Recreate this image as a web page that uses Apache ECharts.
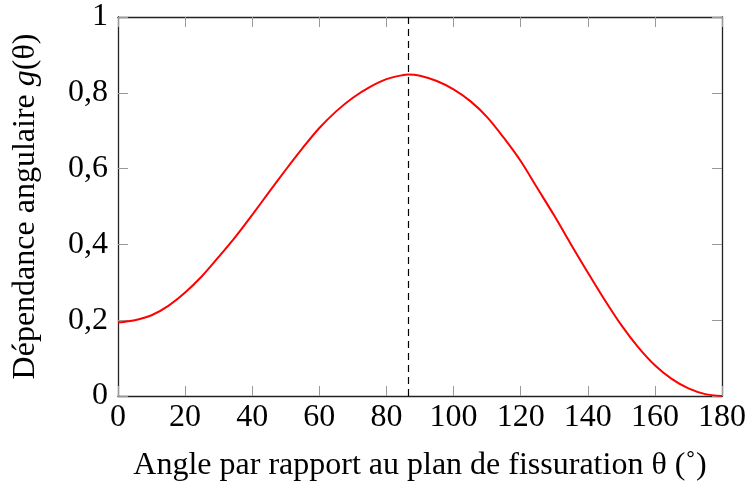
<!DOCTYPE html>
<html>
<head>
<meta charset="utf-8">
<script src="https://cdn.jsdelivr.net/npm/echarts@6/dist/echarts.min.js"></script>
<style>
  html, body { margin: 0; padding: 0; background: #fff; }
  #chart { width: 748px; height: 483px; }
</style>
</head>
<body>
<div id="chart"></div>
<script>
// angle (deg) and g(theta) values
const angles = [0, 5, 10, 15, 20, 25, 30, 35, 40, 45, 50, 55, 60, 65, 70, 75, 80, 85, 86.4,
  90, 95, 100, 105, 110, 115, 120, 125, 130, 135, 140, 145, 150, 155, 160, 165, 170, 175, 180];
const gValues = [0.194, 0.200, 0.213, 0.238, 0.273, 0.316, 0.367, 0.420, 0.478, 0.538, 0.597, 0.654, 0.707, 0.751, 0.787, 0.815, 0.836, 0.847, 0.848,
  0.845, 0.831, 0.809, 0.778, 0.736, 0.681, 0.620, 0.548, 0.476, 0.400, 0.326, 0.254, 0.187, 0.129, 0.081, 0.045, 0.020, 0.005, 0.0];
const peakAngle = 86.4;

const font = 'Liberation Serif';
const chart = echarts.init(document.getElementById('chart'));

const tickStyle = { show: true, inside: true, length: 10, lineStyle: { color: '#999', width: 1 } };
const frameLine = { show: true, onZero: false, lineStyle: { color: '#222', width: 1.3 } };

const option = {
  animation: false,
  grid: { left: 118, right: 26, top: 17, bottom: 87, outerBoundsMode: 'none' },
  xAxis: [
    {
      type: 'value', min: 0, max: 180, interval: 20,
      axisLine: frameLine, axisTick: tickStyle, splitLine: { show: false },
      axisLabel: { color: '#000', fontFamily: font, fontSize: 32, margin: 6 },
      name: 'Angle par rapport au plan de fissuration θ (˚)',
      nameLocation: 'middle', nameGap: 54,
      nameTextStyle: { color: '#000', fontFamily: font, fontSize: 32 }
    },
    {
      type: 'value', position: 'top', min: 0, max: 180, interval: 20,
      axisLine: frameLine, axisTick: tickStyle, axisLabel: { show: false }, splitLine: { show: false }
    }
  ],
  yAxis: [
    {
      type: 'value', min: 0, max: 1, interval: 0.2,
      axisLine: frameLine, axisTick: tickStyle, splitLine: { show: false },
      axisLabel: {
        color: '#000', fontFamily: font, fontSize: 32, margin: 10,
        formatter: v => String(Math.round(v * 10) / 10).replace('.', ',')
      },
      name: '{a|Dépendance angulaire }{i|g}{a|(θ)}',
      nameLocation: 'middle', nameGap: 76, nameRotate: 90,
      nameTextStyle: {
        rich: {
          a: { color: '#000', fontFamily: font, fontSize: 32 },
          i: { color: '#000', fontFamily: font, fontSize: 32, fontStyle: 'italic' }
        }
      }
    },
    {
      type: 'value', position: 'right', min: 0, max: 1, interval: 0.2,
      axisLine: frameLine, axisTick: tickStyle, axisLabel: { show: false }, splitLine: { show: false }
    }
  ],
  series: [
    {
      type: 'line',
      data: angles.map((a, i) => [a, gValues[i]]),
      smooth: 0.3,
      showSymbol: false,
      lineStyle: { color: '#ff0000', width: 2 },
      markLine: {
        silent: true, symbol: 'none', label: { show: false },
        lineStyle: { color: '#000', type: [7, 5], width: 1.2 },
        data: [[{ coord: [peakAngle, 0] }, { coord: [peakAngle, 1] }]]
      }
    }
  ]
};

chart.setOption(option);
</script>
</body>
</html>
